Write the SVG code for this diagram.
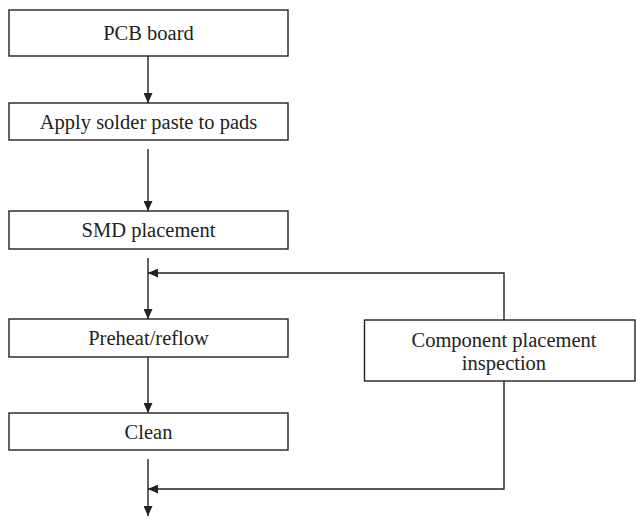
<svg xmlns="http://www.w3.org/2000/svg" width="636" height="521" viewBox="0 0 636 521">
<style>
.box{fill:#fff;stroke:#222;stroke-width:1.4}
.t{font-family:"Liberation Serif","Times New Roman",serif;font-size:20.5px;fill:#222;text-anchor:middle}
.c{fill:none;stroke:#222;stroke-width:1.4}
</style>
<defs>
<marker id="ah" markerWidth="10" markerHeight="9" refX="10" refY="4.5" orient="auto" markerUnits="userSpaceOnUse">
<path d="M0,0 L10,4.5 L0,9 Z" fill="#222"/>
</marker>
</defs>
<rect width="636" height="521" fill="#fff"/>
<g id="connectors">
<line class="c" x1="148" y1="56" x2="148" y2="103" marker-end="url(#ah)"/>
<line class="c" x1="148" y1="149" x2="148" y2="211" marker-end="url(#ah)"/>
<line class="c" x1="148" y1="258" x2="148" y2="319" marker-end="url(#ah)"/>
<polyline class="c" points="504,320 504,273 148,273" marker-end="url(#ah)"/>
<line class="c" x1="148" y1="357" x2="148" y2="413" marker-end="url(#ah)"/>
<line class="c" x1="148" y1="459" x2="148" y2="516" marker-end="url(#ah)"/>
<polyline class="c" points="504,381 504,489 148,489" marker-end="url(#ah)"/>
</g>
<g id="pcb">
<rect class="box" x="9" y="10" width="279" height="46"/>
<text class="t" x="148.5" y="40">PCB board</text>
</g>
<g id="paste">
<rect class="box" x="9" y="103" width="279" height="37"/>
<text class="t" x="148.5" y="128.5">Apply solder paste to pads</text>
</g>
<g id="smd">
<rect class="box" x="9" y="211" width="279" height="38"/>
<text class="t" x="148.5" y="237">SMD placement</text>
</g>
<g id="reflow">
<rect class="box" x="9" y="319" width="279" height="38"/>
<text class="t" x="148.5" y="345">Preheat/reflow</text>
</g>
<g id="clean">
<rect class="box" x="9" y="413" width="279" height="37"/>
<text class="t" x="148.5" y="438.5">Clean</text>
</g>
<g id="inspection">
<rect class="box" x="364.5" y="320" width="270.5" height="61"/>
<text class="t" x="504" y="346.5">Component placement</text>
<text class="t" x="504" y="370">inspection</text>
</g>
</svg>
